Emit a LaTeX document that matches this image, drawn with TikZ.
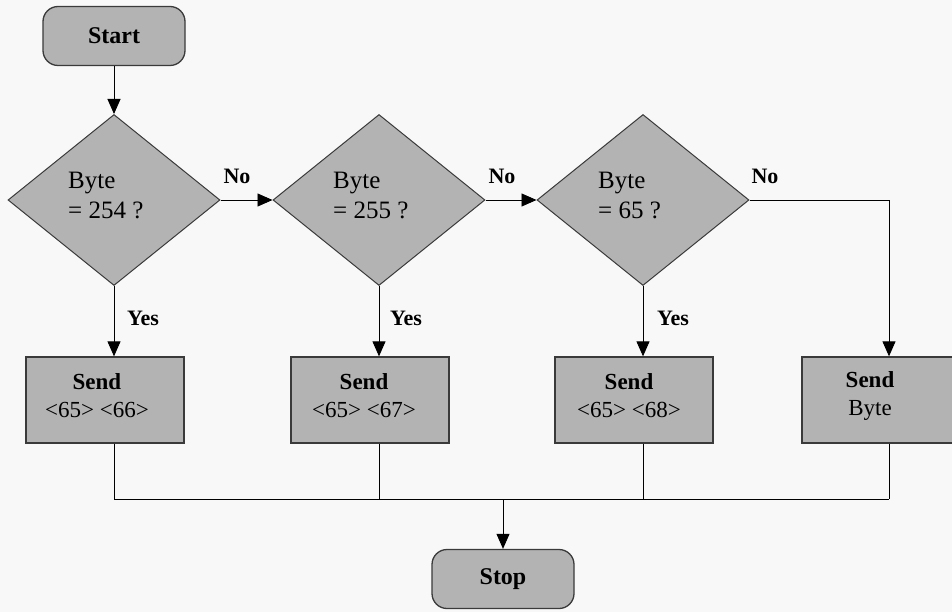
\documentclass[tikz,border=0pt]{standalone}
\usepackage{fontspec}
\setmainfont{Liberation Serif}
\usetikzlibrary{shapes.geometric,arrows.meta}
\definecolor{shade}{HTML}{B3B3B3}
\definecolor{edge}{HTML}{3A3A3A}
\definecolor{paper}{HTML}{F8F8F8}
\begin{document}
\begin{tikzpicture}[x=1pt,y=-1pt,
  terminal/.style={draw=edge,fill=shade,line width=1.3pt,rounded corners=15pt,
    minimum width=142pt,minimum height=59pt,inner sep=0pt,font=\fontsize{24}{28}\selectfont\bfseries},
  decision/.style={diamond,draw=edge,fill=shade,line width=1pt,
    minimum width=212pt,minimum height=171pt,inner sep=0pt},
  process/.style={draw=edge,fill=shade,line width=1.3pt,
    minimum width=158pt,minimum height=86pt,inner sep=0pt},
  caption/.style={align=left,anchor=west,inner sep=0pt,font=\fontsize{25}{30}\selectfont},
  boxtext/.style={align=center,inner sep=0pt,font=\fontsize{23}{28}\selectfont},
  tag/.style={inner sep=0pt,font=\fontsize{22}{26}\selectfont\bfseries},
  flow/.style={draw=black,line width=0.9pt},
  arrow/.style={flow,-{Triangle[width=13pt,length=15pt]}}]

% page and background
\useasboundingbox (0,0) rectangle (952,612);
\fill[paper] (0,0) rectangle (952,612);

% terminals
\node[terminal] (start) at (114,36) {Start};
\node[terminal] (stop) at (503,579) {Stop};

% decisions
\node[decision] (d1) at (114,200) {};
\node[decision] (d2) at (379,200) {};
\node[decision] (d3) at (643,200) {};
\node[caption] (t1) at (68,195) {Byte\\= 254 ?};
\node[caption] (t2) at (333,195) {Byte\\= 255 ?};
\node[caption] (t3) at (598,195) {Byte\\= 65 ?};

% processes
\node[process] (b1) at (105,400) {};
\node[process] (b2) at (370,400) {};
\node[process] (b3) at (634,400) {};
\node[process] (b4) at (881,400) {};
\node[boxtext] (s1) at (97,396) {\textbf{Send}\\<65> <66>};
\node[boxtext] (s2) at (364,396) {\textbf{Send}\\<65> <67>};
\node[boxtext] (s3) at (629,396) {\textbf{Send}\\<65> <68>};
\node[boxtext] (s4) at (870,396) {\textbf{Send}\\Byte};

% connector points
\coordinate (c4) at (889,200);
\coordinate (j1) at (114,499);
\coordinate (j4) at (889,499);
\coordinate (jm) at (503,499);

% connectors
\draw[arrow] (start) -- (d1.north);
\draw[arrow] (d1.east) -- (d2.west);
\draw[arrow] (d2.east) -- (d3.west);
\draw[arrow] (d3.east) -- (c4) -- (c4 |- b4.north);
\draw[arrow] (d1.south) -- (d1.south |- b1.north);
\draw[arrow] (d2.south) -- (d2.south |- b2.north);
\draw[arrow] (d3.south) -- (d3.south |- b3.north);

\draw[flow] (d1.south |- b1.south) -- (j1);
\draw[flow] (d2.south |- b2.south) -- (d2.south |- jm);
\draw[flow] (d3.south |- b3.south) -- (d3.south |- jm);
\draw[flow] (c4 |- b4.south) -- (j4);
\draw[flow] (j1) -- (j4);
\draw[arrow] (jm) -- (stop.north);

% branch labels
\node[tag] (n1) at (237,176) {No};
\node[tag] (n2) at (502,176) {No};
\node[tag] (n3) at (765,176) {No};
\node[tag] (y1) at (143,318) {Yes};
\node[tag] (y2) at (406,318) {Yes};
\node[tag] (y3) at (673,318) {Yes};
\end{tikzpicture}
\end{document}
